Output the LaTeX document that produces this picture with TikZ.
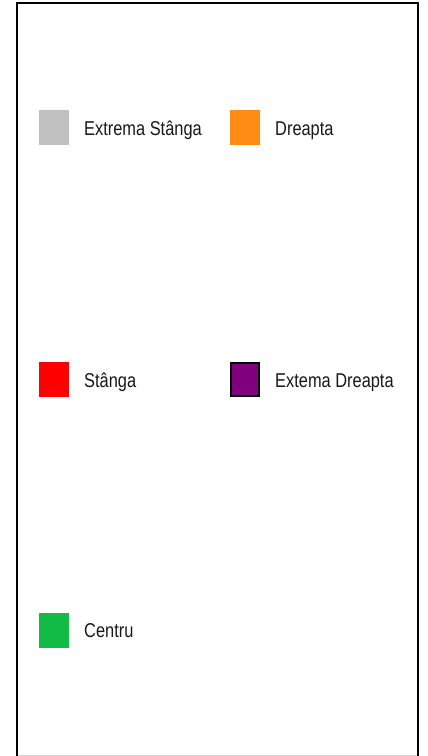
\documentclass[tikz,border=0pt]{standalone}
\usepackage{fontspec}
\setmainfont{Liberation Sans}[FakeStretch=0.82]
\definecolor{cgray}{HTML}{C0C0C0}
\definecolor{corange}{HTML}{FF8C14}
\definecolor{cred}{HTML}{FF0000}
\definecolor{cpurple}{HTML}{800080}
\definecolor{cgreen}{HTML}{12BB45}
\definecolor{cline}{HTML}{D4D4D4}
\begin{document}
\begin{tikzpicture}[x=1pt,y=-1pt,
  swatch/.style={minimum width=30pt,minimum height=35pt,inner sep=0pt,outer sep=0pt},
  lbl/.style={anchor=base west,inner sep=0pt,font=\fontsize{20pt}{24pt}\selectfont,text=black!90}]
\useasboundingbox (0,0) rectangle (428,756);
\fill[white] (0,0) rectangle (428,756);
\draw[cline,line width=1pt] (17,755.5) -- (418,755.5);
\draw[black,line width=2pt] (17,756) -- (17,3) -- (418,3) -- (418,756);
% legend entries
\node[swatch,fill=cgray] (s1) at (54,127.5) {};
\node[lbl] (t1) at (84,135) {Extrema Stânga};
\node[swatch,fill=corange] (s2) at (245,127.5) {};
\node[lbl] (t2) at (275,135) {Dreapta};
\node[swatch,fill=cred] (s3) at (54,379.5) {};
\node[lbl] (t3) at (84,387) {Stânga};
\node[swatch,fill=cpurple,draw=black,line width=2pt,minimum width=28pt,minimum height=33pt] (s4) at (244.5,379.5) {};
\node[lbl] (t4) at (275,387) {Extema Dreapta};
\node[swatch,fill=cgreen] (s5) at (54,630.5) {};
\node[lbl] (t5) at (84,637) {Centru};
\end{tikzpicture}
\end{document}
